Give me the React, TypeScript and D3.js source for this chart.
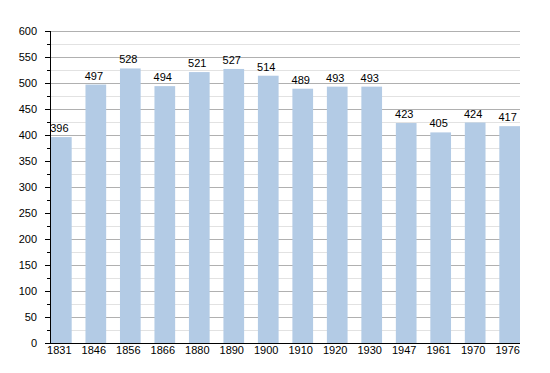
import React from 'react';
import * as d3 from 'd3';

const years = ['1831', '1846', '1856', '1866', '1880', '1890', '1900', '1910', '1920', '1930', '1947', '1961', '1970', '1976'];
const population = [396, 497, 528, 494, 521, 527, 514, 489, 493, 493, 423, 405, 424, 417];
const majorTicks = [0, 50, 100, 150, 200, 250, 300, 350, 400, 450, 500, 550, 600];
const minorTicks = [25, 75, 125, 175, 225, 275, 325, 375, 425, 475, 525, 575];

const width = 550;
const height = 373;
const margin = { top: 31, right: 30, bottom: 30, left: 50 };

export default function App() {
  const x = d3.scaleBand()
    .domain(years)
    .range([margin.left + 1, width - margin.right])
    .paddingInner(0.4)
    .paddingOuter(0)
    .align(0);

  const y = d3.scaleLinear()
    .domain([0, 600])
    .range([height - margin.bottom, margin.top]);

  const font = 'Liberation Sans, Arial, sans-serif';
  const x0 = margin.left;
  const x1 = width - margin.right;
  // labels sit slightly left of the bar centre in the original
  const labelX = (yr: string) => (x(yr) as number) + x.bandwidth() / 2 - 2;

  return (
    <svg width={width} height={height} style={{ position: 'absolute', left: 0, top: 0, background: '#fff' }}>
      {minorTicks.map(t => (
        <line key={'mg' + t} x1={x0} x2={x1} y1={Math.round(y(t)) + 0.5} y2={Math.round(y(t)) + 0.5} stroke="#e2e2e2" />
      ))}
      {majorTicks.map(t => (
        <line key={'Mg' + t} x1={x0} x2={x1} y1={Math.round(y(t)) + 0.5} y2={Math.round(y(t)) + 0.5} stroke="#b0b0b0" />
      ))}
      {population.map((v, i) => (
        <rect key={years[i]} x={x(years[i])} y={y(v)} width={x.bandwidth()} height={y(0) - y(v)} fill="#b3cbe5" />
      ))}
      {population.map((v, i) => (
        <text key={'l' + years[i]} x={labelX(years[i])} y={y(v) - 5}
          textAnchor="middle" fontFamily={font} fontSize={11} fill="#000">{v}</text>
      ))}
      {/* axes */}
      <line x1={x0 + 0.5} x2={x0 + 0.5} y1={y(600)} y2={y(0) + 1} stroke="#000" />
      <line x1={x0} x2={x1} y1={y(0) + 0.5} y2={y(0) + 0.5} stroke="#000" />
      {majorTicks.map(t => (
        <g key={'t' + t}>
          <line x1={x0 - 5} x2={x0} y1={Math.round(y(t)) + 0.5} y2={Math.round(y(t)) + 0.5} stroke="#000" />
          <text x={37} y={y(t)} dy="0.35em" textAnchor="end" fontFamily={font} fontSize={11} fill="#000">{t}</text>
        </g>
      ))}
      {minorTicks.map(t => (
        <line key={'mt' + t} x1={x0 - 3} x2={x0} y1={Math.round(y(t)) + 0.5} y2={Math.round(y(t)) + 0.5} stroke="#000" />
      ))}
      {years.map(yr => (
        <text key={'x' + yr} x={labelX(yr)} y={354}
          textAnchor="middle" fontFamily={font} fontSize={11} fill="#000">{yr}</text>
      ))}
    </svg>
  );
}
